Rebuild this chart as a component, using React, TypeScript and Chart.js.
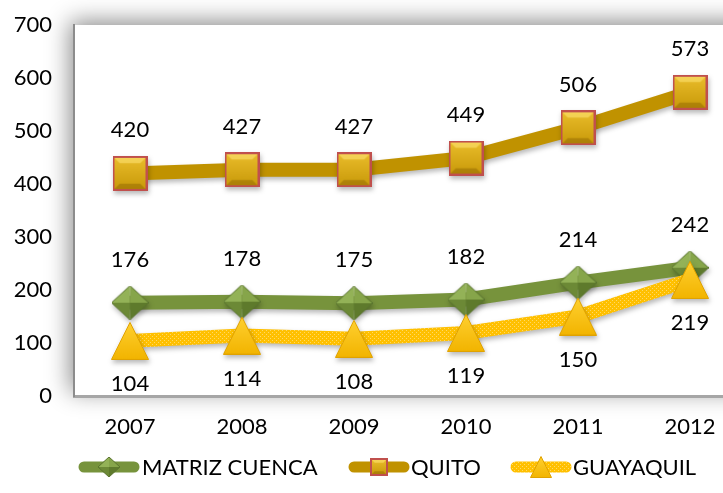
import React, { useEffect, useRef } from "react";
import { Chart, registerables } from "chart.js";

Chart.register(...registerables);

const years = ["2007", "2008", "2009", "2010", "2011", "2012"];
const matrizCuenca = [176, 178, 175, 182, 214, 242];
const quito = [420, 427, 427, 449, 506, 573];
const guayaquil = [104, 114, 108, 119, 150, 219];
const yTicks = [0, 100, 200, 300, 400, 500, 600, 700];

const FONT = "Lato, 'Open Sans', sans-serif";
const GREEN = "#77933C";
const GOLD = "#C09200";
const YELLOW = "#FFC000";

function makeCanvas(w: number, h: number) {
  const c = document.createElement("canvas");
  c.width = w;
  c.height = h;
  return c;
}

function diamondImg(w: number, h: number) {
  const c = makeCanvas(w, h);
  const g = c.getContext("2d")!;
  const cx = w / 2, cy = h / 2;
  const pts = [[cx, 0], [w, cy], [cx, h], [0, cy]];
  const facet = (a: number[], b: number[], col: string) => {
    g.beginPath();
    g.moveTo(cx, cy);
    g.lineTo(a[0], a[1]);
    g.lineTo(b[0], b[1]);
    g.closePath();
    g.fillStyle = col;
    g.fill();
  };
  facet(pts[3], pts[0], "#93B257");
  facet(pts[0], pts[1], "#86A54A");
  facet(pts[1], pts[2], "#5E7A2C");
  facet(pts[2], pts[3], "#6C8936");
  g.beginPath();
  g.moveTo(pts[0][0], pts[0][1]);
  for (let i = 1; i < 4; i++) g.lineTo(pts[i][0], pts[i][1]);
  g.closePath();
  g.strokeStyle = "#5B7530";
  g.lineWidth = 1;
  g.stroke();
  return c;
}

function squareImg(s: number, bw: number) {
  const c = makeCanvas(s, s);
  const g = c.getContext("2d")!;
  g.fillStyle = "#C0504D";
  g.fillRect(0, 0, s, s);
  const i = bw;
  const grad = g.createLinearGradient(0, i, 0, s - i);
  grad.addColorStop(0, "#E9BC2A");
  grad.addColorStop(1, "#C99A0A");
  g.fillStyle = grad;
  g.fillRect(i, i, s - 2 * i, s - 2 * i);
  const b = Math.max(2, s * 0.15);
  g.fillStyle = "rgba(255,230,120,0.55)";
  g.beginPath();
  g.moveTo(i, i); g.lineTo(s - i, i); g.lineTo(s - i - b, i + b); g.lineTo(i + b, i + b); g.closePath();
  g.fill();
  g.fillStyle = "rgba(120,80,0,0.35)";
  g.beginPath();
  g.moveTo(i, s - i); g.lineTo(s - i, s - i); g.lineTo(s - i - b, s - i - b); g.lineTo(i + b, s - i - b); g.closePath();
  g.fill();
  return c;
}

function triangleImg(w: number, h: number) {
  const c = makeCanvas(w, h);
  const g = c.getContext("2d")!;
  const grad = g.createLinearGradient(0, 0, 0, h);
  grad.addColorStop(0, "#FFD030");
  grad.addColorStop(1, "#F2B400");
  g.beginPath();
  g.moveTo(w / 2, 0.5);
  g.lineTo(w - 0.5, h - 0.5);
  g.lineTo(0.5, h - 0.5);
  g.closePath();
  g.fillStyle = grad;
  g.fill();
  g.strokeStyle = "#E0A200";
  g.lineWidth = 1;
  g.stroke();
  return c;
}

function dotPattern() {
  const c = makeCanvas(4, 4);
  const g = c.getContext("2d")!;
  g.fillStyle = YELLOW;
  g.fillRect(0, 0, 4, 4);
  g.fillStyle = "#FFD966";
  g.fillRect(0, 0, 1, 1);
  g.fillRect(2, 2, 1, 1);
  return g.createPattern(c, "repeat")!;
}

export default function App() {
  const ref = useRef<HTMLCanvasElement>(null);

  useEffect(() => {
    const canvas = ref.current!;
    const pattern = dotPattern();
    const dia = diamondImg(37, 34);
    const sq = squareImg(35, 2);
    const tri = triangleImg(38, 38);
    const diaS = diamondImg(22, 20);
    const sqS = squareImg(18, 2);
    const triS = triangleImg(22, 22);

    const bgPlugin = {
      id: "bgShadow",
      beforeDraw(chart: any) {
        const { ctx, chartArea: a } = chart;
        ctx.save();
        ctx.fillStyle = "#fff";
        ctx.fillRect(0, 0, chart.width, chart.height);
        ctx.shadowColor = "rgba(0,0,0,0.45)";
        ctx.shadowBlur = 22;
        ctx.shadowOffsetX = -4;
        ctx.shadowOffsetY = -4;
        ctx.fillRect(a.left, a.top, a.right - a.left + 40, a.bottom - a.top);
        ctx.restore();
      },
      beforeDatasetsDraw(chart: any) {
        const ctx = chart.ctx;
        ctx.save();
        ctx.shadowColor = "rgba(0,0,0,0.28)";
        ctx.shadowBlur = 5;
        ctx.shadowOffsetX = 1;
        ctx.shadowOffsetY = 3;
      },
      afterDatasetsDraw(chart: any) {
        const ctx = chart.ctx;
        ctx.restore();
        ctx.save();
        ctx.font = `22px ${FONT}`;
        ctx.fillStyle = "#000";
        ctx.textAlign = "center";
        ctx.textBaseline = "middle";
        chart.data.datasets.forEach((ds: any, di: number) => {
          const meta = chart.getDatasetMeta(di);
          meta.data.forEach((pt: any, i: number) => {
            const off = ds.labelBelow ? 43 : -43;
            ctx.fillText(String(ds.data[i]), pt.x, pt.y + off);
          });
        });
        ctx.restore();
      },
      afterDraw(chart: any) {
        const ctx = chart.ctx;
        const y = 467;
        ctx.save();
        const items = [
          { x0: 79, x1: 139, color: GREEN as any, img: diaS, text: "MATRIZ CUENCA", tx: 142 },
          { x0: 349, x1: 409, color: GOLD as any, img: sqS, text: "QUITO", tx: 411 },
          { x0: 511, x1: 571, color: pattern as any, img: triS, text: "GUAYAQUIL", tx: 573 },
        ];
        items.forEach((it) => {
          ctx.beginPath();
          ctx.lineCap = "round";
          ctx.lineWidth = 11;
          ctx.strokeStyle = it.color;
          ctx.moveTo(it.x0 + 5, y);
          ctx.lineTo(it.x1 - 5, y);
          ctx.stroke();
          const cx = (it.x0 + it.x1) / 2;
          ctx.drawImage(it.img, cx - it.img.width / 2, y - it.img.height / 2);
          ctx.font = `22px ${FONT}`;
          ctx.fillStyle = "#000";
          ctx.textAlign = "left";
          ctx.textBaseline = "middle";
          ctx.fillText(it.text, it.tx, y + 1);
        });
        ctx.restore();
      },
    };

    const chart = new Chart(canvas, {
      type: "line",
      data: {
        labels: years,
        datasets: [
          {
            label: "MATRIZ CUENCA",
            data: matrizCuenca,
            borderColor: GREEN,
            backgroundColor: GREEN,
            borderWidth: 14,
            pointStyle: dia as any,
            pointRadius: 18,
            order: 2,
            clip: false,
          } as any,
          {
            label: "QUITO",
            data: quito,
            borderColor: GOLD,
            backgroundColor: GOLD,
            borderWidth: 14,
            pointStyle: sq as any,
            pointRadius: 18,
            order: 1,
            clip: false,
          } as any,
          {
            label: "GUAYAQUIL",
            data: guayaquil,
            borderColor: pattern as any,
            backgroundColor: YELLOW,
            borderWidth: 14,
            pointStyle: tri as any,
            pointRadius: 18,
            order: 0,
            clip: false,
            labelBelow: true,
          } as any,
        ],
      },
      options: {
        responsive: false,
        animation: false,
        devicePixelRatio: 1,
        layout: { autoPadding: false, padding: { top: 25, right: 4, left: 0, bottom: 0 } },
        elements: { line: { tension: 0, borderJoinStyle: "round", borderCapStyle: "round" } },
        plugins: {
          legend: { display: false },
          tooltip: { enabled: false },
        },
        scales: {
          x: {
            offset: true,
            grid: { display: false, drawTicks: false },
            border: { display: true, color: "#A6A6A6", width: 3 },
            ticks: { color: "#000", font: { family: FONT, size: 22 }, padding: 18, maxRotation: 0 },
            afterFit(scale: any) {
              scale.height = 97;
              scale.paddingLeft = 0;
              scale.paddingRight = 0;
            },
          },
          y: {
            min: 0,
            max: 700,
            afterBuildTicks(scale: any) {
              scale.ticks = yTicks.map((v) => ({ value: v }));
            },
            grid: { display: false, drawTicks: false },
            border: { display: true, color: "#8C8C8C", width: 2 },
            ticks: { color: "#000", font: { family: FONT, size: 22 }, padding: 22 },
            afterFit(scale: any) {
              scale.width = 74;
              scale.paddingTop = 0;
              scale.paddingBottom = 0;
            },
          },
        },
      } as any,
      plugins: [bgPlugin],
    });
    return () => chart.destroy();
  }, []);

  return (
    <div style={{ position: "fixed", left: 0, top: 0, width: 723, height: 493, overflow: "hidden", background: "#fff" }}>
      <canvas ref={ref} width={750} height={493} style={{ display: "block" }} />
    </div>
  );
}
